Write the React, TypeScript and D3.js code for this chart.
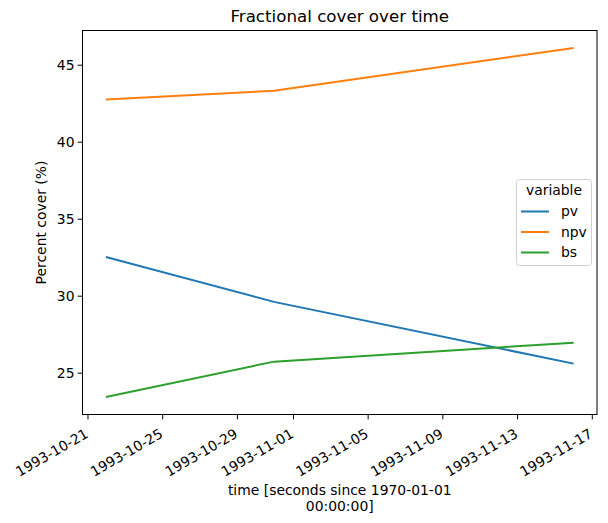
import React from "react";
import * as d3 from "d3";

const times = ["1993-10-21T23:00:00Z", "1993-10-30T23:00:00Z", "1993-11-16T00:00:00Z"];
const pv = [32.55, 29.63, 25.62];
const npv = [42.77, 43.34, 46.12];
const bs = [23.45, 25.75, 26.98];
const seriesNames = ["pv", "npv", "bs"];
const seriesColors = ["#1f77b4", "#ff7f0e", "#2ca02c"];
const xTickDates = ["1993-10-21", "1993-10-25", "1993-10-29", "1993-11-01", "1993-11-05", "1993-11-09", "1993-11-13", "1993-11-17"];
const yTicks = [25, 30, 35, 40, 45];

const W = 608, H = 523;
const L = 82.5, R = 597, T = 30.5, B = 414.5;
const FONT = "DejaVu Sans, sans-serif";

export default function App() {
  const dates = times.map((t) => new Date(t));
  const t0 = +dates[0], t2 = +dates[dates.length - 1];
  const pad = (t2 - t0) * 0.05;
  const x = d3.scaleTime().domain([new Date(t0 - pad), new Date(t2 + pad)]).range([L, R]);
  const all = [...pv, ...npv, ...bs];
  const ymin = d3.min(all)!, ymax = d3.max(all)!;
  const yp = (ymax - ymin) * 0.05;
  const y = d3.scaleLinear().domain([ymin - yp, ymax + yp]).range([B, T]);
  const data = [pv, npv, bs];
  const line = d3.line<number>().x((_, i) => x(dates[i])).y((v) => y(v));

  return (
    <svg width={W} height={H} style={{ position: "absolute", left: 0, top: 0, fontFamily: FONT }}>
      <rect x={0} y={0} width={W} height={H} fill="#fff" />
      <text x={(L + R) / 2} y={22} textAnchor="middle" fontSize={16.7} fill="#000">Fractional cover over time</text>
      {data.map((d, i) => (
        <path key={i} d={line(d) || ""} fill="none" stroke={seriesColors[i]} strokeWidth={2} />
      ))}
      <rect x={L} y={T} width={R - L} height={B - T} fill="none" stroke="#000" strokeWidth={1} />
      {yTicks.map((v) => (
        <g key={v}>
          <line x1={L} x2={L - 4.9} y1={y(v)} y2={y(v)} stroke="#000" strokeWidth={1} />
          <text x={L - 8} y={y(v)} dy="0.35em" textAnchor="end" fontSize={13.9} fill="#000">{v}</text>
        </g>
      ))}
      {xTickDates.map((s) => {
        const px = x(new Date(s + "T00:00:00Z"));
        return (
          <g key={s}>
            <line x1={px} x2={px} y1={B} y2={B + 4.9} stroke="#000" strokeWidth={1} />
            <text transform={`translate(${px - 4},${B + 13}) rotate(-30)`} textAnchor="end" dy="0.75em" fontSize={13.9} fill="#000">{s}</text>
          </g>
        );
      })}
      <text x={(L + R) / 2} y={495} textAnchor="middle" fontSize={13.9} fill="#000">time [seconds since 1970-01-01</text>
      <text x={(L + R) / 2} y={511} textAnchor="middle" fontSize={13.9} fill="#000">00:00:00]</text>
      <text transform={`translate(46,${(T + B) / 2}) rotate(-90)`} textAnchor="middle" fontSize={13.9} fill="#000">Percent cover (%)</text>
      <g>
        <rect x={516.5} y={179.5} width={75} height={86} rx={3} fill="#fff" fillOpacity={0.8} stroke="#d0d0d0" strokeWidth={1} />
        <text x={554} y={195} textAnchor="middle" fontSize={13.9} fill="#000">variable</text>
        {seriesNames.map((n, i) => (
          <g key={n}>
            <line x1={521} x2={549} y1={211.5 + i * 20.5} y2={211.5 + i * 20.5} stroke={seriesColors[i]} strokeWidth={2} />
            <text x={561} y={211.5 + i * 20.5} dy="0.35em" fontSize={13.9} fill="#000">{n}</text>
          </g>
        ))}
      </g>
    </svg>
  );
}
